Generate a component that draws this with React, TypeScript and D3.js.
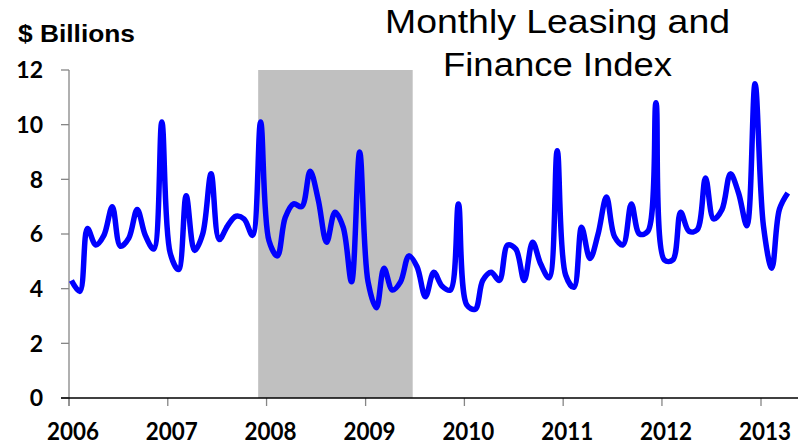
import React from "react";
import * as d3 from "d3";

// Monthly volume, $ billions, Jan of each year onward
const values2006 = [4.3, 3.9, 6.2, 5.6, 5.95, 7.0, 5.55, 5.85, 6.9, 5.95, 5.45, 10.1];
const values2007 = [5.3, 4.7, 7.4, 5.4, 6.0, 8.2, 5.8, 6.3, 6.65, 6.55, 5.95, 10.1];
const values2008 = [5.75, 5.2, 6.6, 7.1, 7.0, 8.3, 7.25, 5.7, 6.8, 6.25, 4.25, 9.0];
const values2009 = [4.25, 3.3, 4.75, 3.95, 4.25, 5.2, 4.8, 3.7, 4.6, 4.1, 3.95, 7.1];
const values2010 = [3.4, 3.25, 4.3, 4.6, 4.3, 5.6, 5.45, 4.3, 5.7, 4.9, 4.4, 9.05];
const values2011 = [4.5, 4.05, 6.25, 5.1, 6.0, 7.35, 5.9, 5.6, 7.1, 6.0, 6.1, 10.8];
const values2012 = [5.05, 5.05, 6.8, 6.1, 6.15, 8.05, 6.55, 6.9, 8.2, 7.5, 6.3, 11.5];
const values2013 = [6.3, 4.75, 6.9, 7.5];

const seriesByYear = [values2006, values2007, values2008, values2009, values2010, values2011, values2012, values2013];
const firstYear = 2006;

const yearTicks = [2006, 2007, 2008, 2009, 2010, 2011, 2012, 2013];
const valueTicks = [0, 2, 4, 6, 8, 10, 12];

// Recession shading (Dec 2007 – Jun 2009)
const recessionStart = new Date(2007, 11, 1);
const recessionEnd = new Date(2009, 5, 24);

const titleLines = ["Monthly Leasing and", "Finance Index"];
const unitLabel = "$ Billions";

const W = 798;
const H = 446;

export default function App() {
  const points = seriesByYear.flatMap((vals, yi) =>
    vals.map((v, m) => ({ date: new Date(firstYear + yi, m, 10), value: v }))
  );

  const x = d3
    .scaleTime()
    .domain([new Date(2006, 0, 1), new Date(2013, 0, 1)])
    .range([69, 761]);
  const y = d3.scaleLinear().domain([0, 12]).range([398, 70]);

  const line = d3
    .line<{ date: Date; value: number }>()
    .x((d) => x(d.date))
    .y((d) => y(d.value))
    .curve(d3.curveCatmullRom.alpha(0.5));

  const labelFont = "Lato, 'Liberation Sans', Arial, sans-serif";

  return (
    <svg
      width={W}
      height={H}
      viewBox={`0 0 ${W} ${H}`}
      style={{ position: "absolute", left: 0, top: 0, background: "#fff" }}
    >
      <rect x={0} y={0} width={W} height={H} fill="#fff" />

      {/* recession band */}
      <rect
        x={x(recessionStart)}
        y={y(12)}
        width={x(recessionEnd) - x(recessionStart)}
        height={y(0) - y(12)}
        fill="#c0c0c0"
      />

      {/* y axis */}
      <line x1={69} x2={69} y1={y(12)} y2={406} stroke="#868686" strokeWidth={1.3} />
      {valueTicks.map((t) => (
        <g key={t}>
          <line x1={61} x2={69} y1={y(t)} y2={y(t)} stroke="#868686" strokeWidth={1.3} />
          <text
            x={43}
            y={y(t)}
            dy="0.36em"
            textAnchor="end"
            fontFamily={labelFont}
            fontWeight="bold"
            fontSize={23}
            fill="#000"
          >
            {t}
          </text>
        </g>
      ))}

      {/* x axis */}
      {yearTicks.map((yr) => {
        const xp = x(new Date(yr, 0, 1));
        return (
          <g key={yr}>
            <line x1={xp} x2={xp} y1={398} y2={406} stroke="#868686" strokeWidth={1.3} />
            <text
              x={xp + 4}
              y={440}
              textAnchor="middle"
              fontFamily={labelFont}
              fontWeight="bold"
              fontSize={24}
              textLength={52}
              lengthAdjust="spacingAndGlyphs"
              fill="#000"
            >
              {yr}
            </text>
          </g>
        );
      })}
      <line x1={61} x2={W} y1={398} y2={398} stroke="#000" strokeWidth={1.3} />

      {/* series */}
      <path
        d={line(points) ?? ""}
        fill="none"
        stroke="#0000ff"
        strokeWidth={5.5}
        strokeLinejoin="round"
      />

      {/* unit label */}
      <text
        x={18}
        y={42}
        fontFamily="'Liberation Sans', Arial, sans-serif"
        fontWeight="bold"
        fontSize={23}
        textLength={117}
        lengthAdjust="spacingAndGlyphs"
        fill="#000"
      >
        {unitLabel}
      </text>

      {/* title */}
      {titleLines.map((t, i) => (
        <text
          key={t}
          x={557.5}
          y={33 + i * 43}
          textAnchor="middle"
          fontFamily="'Liberation Sans', Arial, sans-serif"
          fontSize={32.5}
          textLength={i === 0 ? 345 : 229}
          lengthAdjust="spacingAndGlyphs"
          fill="#000"
        >
          {t}
        </text>
      ))}
    </svg>
  );
}
